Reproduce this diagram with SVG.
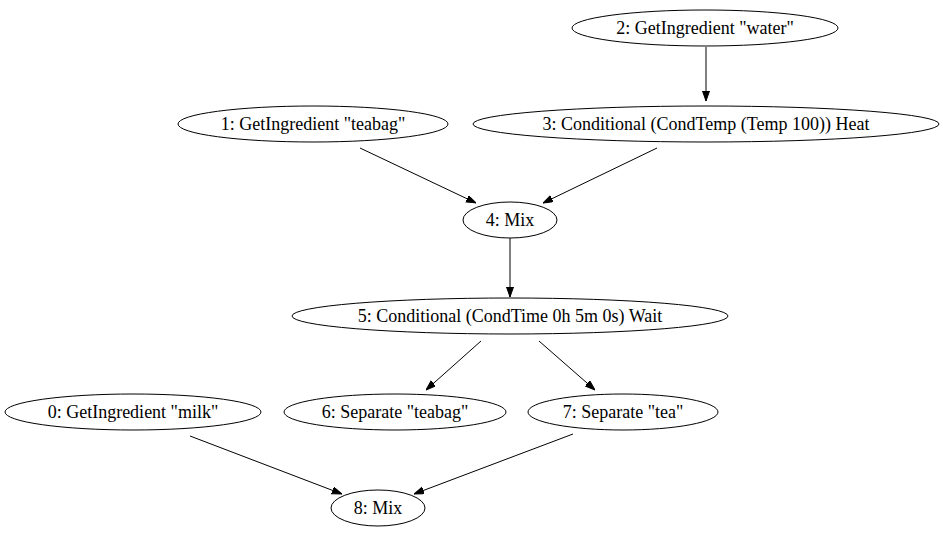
<svg xmlns="http://www.w3.org/2000/svg" width="943" height="539" viewBox="0 0 943 539">
<style>
.n ellipse{fill:none;stroke:#000;stroke-width:1}
.n text{font-family:"Liberation Serif","Times New Roman",serif;font-size:18px;fill:#000;text-anchor:middle}
.e line{stroke:#000;stroke-width:1;marker-end:url(#ah)}
</style>
<defs>
<marker id="ah" markerUnits="userSpaceOnUse" markerWidth="10" markerHeight="8" refX="10" refY="3.5" orient="auto">
<path d="M0,0 L10,3.5 L0,7 z" fill="#000" stroke="#000" stroke-width="1"/>
</marker>
</defs>
<rect width="943" height="539" fill="#fff"/>
<g id="edges" class="e">
<line x1="706" y1="47" x2="706" y2="101"/>
<line x1="360" y1="148" x2="476" y2="203"/>
<line x1="657" y1="148" x2="543" y2="203"/>
<line x1="510" y1="238" x2="510" y2="297"/>
<line x1="481" y1="341" x2="426" y2="390"/>
<line x1="539" y1="341" x2="595" y2="390"/>
<line x1="190" y1="436" x2="342" y2="494"/>
<line x1="573" y1="434" x2="414" y2="494"/>
</g>
<g id="node0" class="n"><ellipse cx="133" cy="412" rx="128" ry="18"/><text x="133" y="418">0: GetIngredient "milk"</text></g>
<g id="node1" class="n"><ellipse cx="313" cy="124" rx="135" ry="18"/><text x="313" y="130">1: GetIngredient "teabag"</text></g>
<g id="node2" class="n"><ellipse cx="705" cy="28" rx="133" ry="18"/><text x="705" y="34">2: GetIngredient "water"</text></g>
<g id="node3" class="n"><ellipse cx="706" cy="124" rx="233" ry="18"/><text x="706" y="130">3: Conditional (CondTemp (Temp 100)) Heat</text></g>
<g id="node4" class="n"><ellipse cx="510" cy="220" rx="47" ry="18"/><text x="510" y="226">4: Mix</text></g>
<g id="node5" class="n"><ellipse cx="510" cy="316" rx="218" ry="18"/><text x="510" y="322">5: Conditional (CondTime 0h 5m 0s) Wait</text></g>
<g id="node6" class="n"><ellipse cx="395" cy="412" rx="111" ry="18"/><text x="395" y="418">6: Separate "teabag"</text></g>
<g id="node7" class="n"><ellipse cx="623" cy="412" rx="95" ry="18"/><text x="623" y="418">7: Separate "tea"</text></g>
<g id="node8" class="n"><ellipse cx="378" cy="508" rx="47" ry="18"/><text x="378" y="514">8: Mix</text></g>
</svg>
